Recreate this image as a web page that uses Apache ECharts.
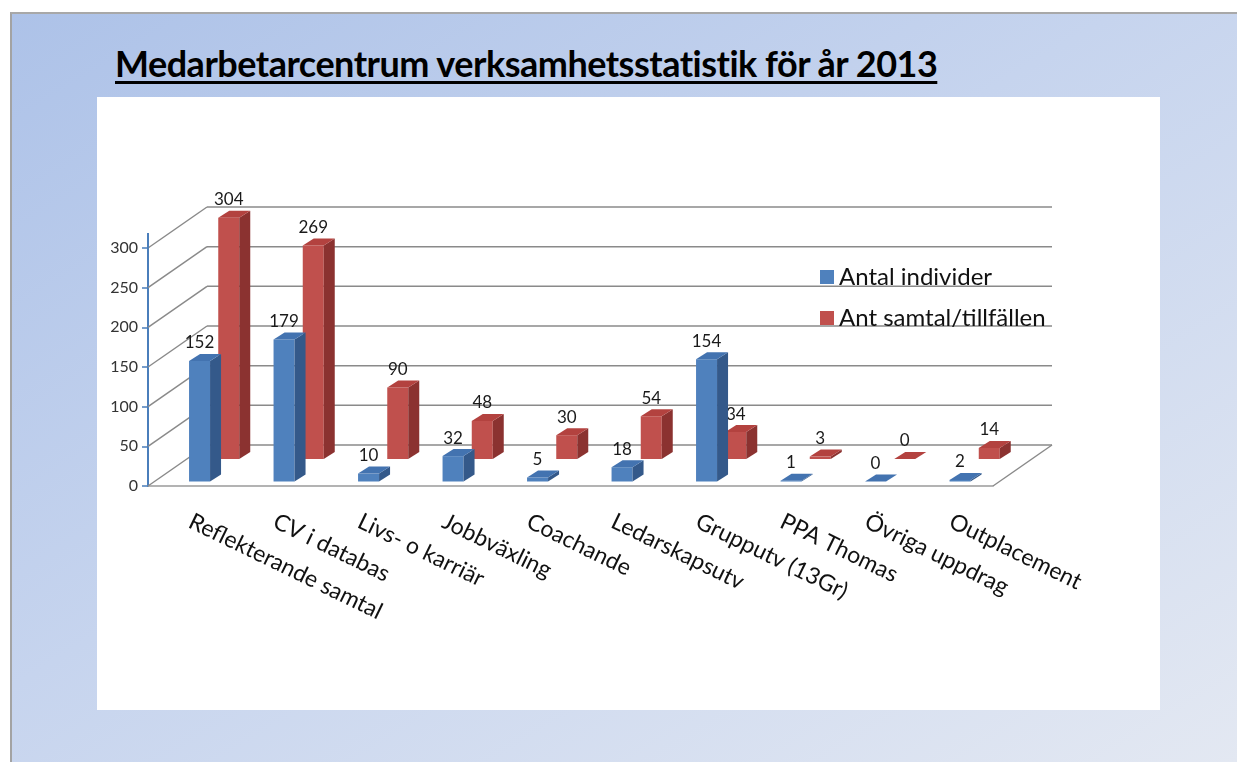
<!DOCTYPE html>
<html>
<head>
<meta charset="utf-8">
<script src="https://cdn.jsdelivr.net/npm/echarts@6/dist/echarts.min.js"></script>
<style>
  html, body { margin: 0; padding: 0; width: 1237px; height: 762px; overflow: hidden; background: #fff; }
  #bg {
    position: absolute; left: 10px; top: 12px; width: 1227px; height: 750px;
    border-left: 2px solid #a3a3a3; border-top: 2px solid #a8a8a8; box-sizing: border-box;
    background: linear-gradient(to bottom right, #adc2e8 0%, #c6d4ee 45%, #e3e8f2 100%);
  }
  #panel { position: absolute; left: 97px; top: 97px; width: 1063px; height: 613px; background: #fff; }
  #title {
    position: absolute; left: 115px; top: 41px; margin: 0; line-height: 44px;
    font-family: Lato, sans-serif; font-weight: bold; font-size: 36px; color: #000;
    text-decoration: underline; text-decoration-thickness: 3px; text-underline-offset: 4px;
    letter-spacing: -0.5px; white-space: nowrap;
  }
  #chart { position: absolute; left: 0; top: 0; width: 1237px; height: 762px; }
</style>
</head>
<body>
<div id="bg"></div>
<div id="panel"></div>
<div id="title">Medarbetarcentrum verksamhetsstatistik för år 2013</div>
<div id="chart"></div>
<script>
const categories = ['Reflekterande samtal', 'CV i databas', 'Livs- o karriär', 'Jobbväxling', 'Coachande',
  'Ledarskapsutv', 'Grupputv (13Gr)', 'PPA Thomas', 'Övriga uppdrag', 'Outplacement']
const individer = [152, 179, 10, 32, 5, 18, 154, 1, 0, 2]
const samtal = [304, 269, 90, 48, 30, 54, 34, 3, 0, 14]
const yTicks = [0, 50, 100, 150, 200, 250, 300]

// depth of the 3d box (px) and the size of one bar
const DEPTH = [59, -41]
const BAR_W = 21
const BAR_D = [11, -7]

const wallItem = (params, api) => {
  const cs = params.coordSys
  const y = api.coord([0, api.value(1)])[1]
  const bx = cs.x + DEPTH[0], by = y + DEPTH[1]
  const line = { stroke: '#8a8a8a', lineWidth: 1.5 }
  const children = [
    { type: 'line', shape: { x1: cs.x, y1: y, x2: bx, y2: by }, style: line },
    { type: 'line', shape: { x1: bx, y1: by, x2: cs.x + cs.width + DEPTH[0], y2: by }, style: line }
  ]
  if (api.value(1) === 0) {
    children.push({ type: 'line', shape: { x1: cs.x + cs.width, y1: y, x2: cs.x + cs.width + DEPTH[0], y2: by }, style: line })
  }
  if (params.dataIndex === yTicks.length - 1) {
    children.push({ type: 'line', shape: { x1: cs.x, y1: y - 15, x2: cs.x, y2: y }, style: { stroke: '#4a7ebb', lineWidth: 2 } })
  }
  return { type: 'group', children }
}

const barItem = (off, colors) => (params, api) => {
  const i = api.value(0), v = api.value(1)
  const base = api.coord([i, 0])
  const top = api.coord([i, v])
  const cx = base[0] + off[0]
  const xl = cx - BAR_W / 2, xr = cx + BAR_W / 2
  const yb = base[1] + off[1], yt = top[1] + off[1]
  return {
    type: 'group',
    children: [
      { type: 'rect', shape: { x: xl, y: yt, width: BAR_W, height: yb - yt }, style: { fill: colors[0] } },
      { type: 'polygon', shape: { points: [[xr, yt], [xr + BAR_D[0], yt + BAR_D[1]], [xr + BAR_D[0], yb + BAR_D[1]], [xr, yb]] }, style: { fill: colors[2] } },
      { type: 'polygon', shape: { points: [[xl, yt], [xr, yt], [xr + BAR_D[0], yt + BAR_D[1]], [xl + BAR_D[0], yt + BAR_D[1]]] }, style: { fill: colors[1] } },
      { type: 'text', x: cx, y: yt - 18, style: { text: String(v), fill: '#1a1a1a', font: '17px Lato', align: 'center', verticalAlign: 'middle' } }
    ]
  }
}

const chart = echarts.init(document.getElementById('chart'))
chart.setOption({
  backgroundColor: 'transparent',
  animation: false,
  grid: { left: 148, top: 248, width: 845, height: 238 },
  legend: {
    data: ['Antal individer', 'Ant samtal/tillfällen'],
    orient: 'vertical', left: 815, top: 259, icon: 'rect',
    itemWidth: 14, itemHeight: 14, itemGap: 15,
    textStyle: { fontFamily: 'Lato', fontSize: 24, color: '#111', lineHeight: 26 }
  },
  xAxis: {
    type: 'category', data: categories,
    axisLine: { lineStyle: { color: '#9a9a9a', width: 1.5 } },
    axisTick: { show: false },
    axisLabel: { interval: 0, rotate: -26, margin: 34, fontFamily: 'Lato', fontSize: 23, color: '#111' }
  },
  yAxis: {
    type: 'value', min: 0, max: 300, interval: 50,
    axisLine: { show: true, lineStyle: { color: '#4a7ebb', width: 2 } },
    axisTick: { show: true, length: 6, lineStyle: { color: '#4a7ebb', width: 1.5 } },
    axisLabel: { fontFamily: 'Lato', fontSize: 16, color: '#333', margin: 10 },
    splitLine: { show: false }
  },
  series: [
    { type: 'custom', name: 'walls', silent: true, renderItem: wallItem, data: yTicks.map(v => [0, v]), encode: { x: 0, y: 1 }, z: 1 },
    { type: 'custom', name: 'Ant samtal/tillfällen', renderItem: barItem([38.5, -27], ['#c0504d', '#b3423f', '#8b3230']),
      itemStyle: { color: '#c0504d' }, data: samtal.map((v, i) => [i, v]), encode: { x: 0, y: 1 }, z: 2 },
    { type: 'custom', name: 'Antal individer', renderItem: barItem([9.3, -4.5], ['#4f81bd', '#4373b0', '#34598a']),
      itemStyle: { color: '#4f81bd' }, data: individer.map((v, i) => [i, v]), encode: { x: 0, y: 1 }, z: 3 }
  ]
})
</script>
</body>
</html>
